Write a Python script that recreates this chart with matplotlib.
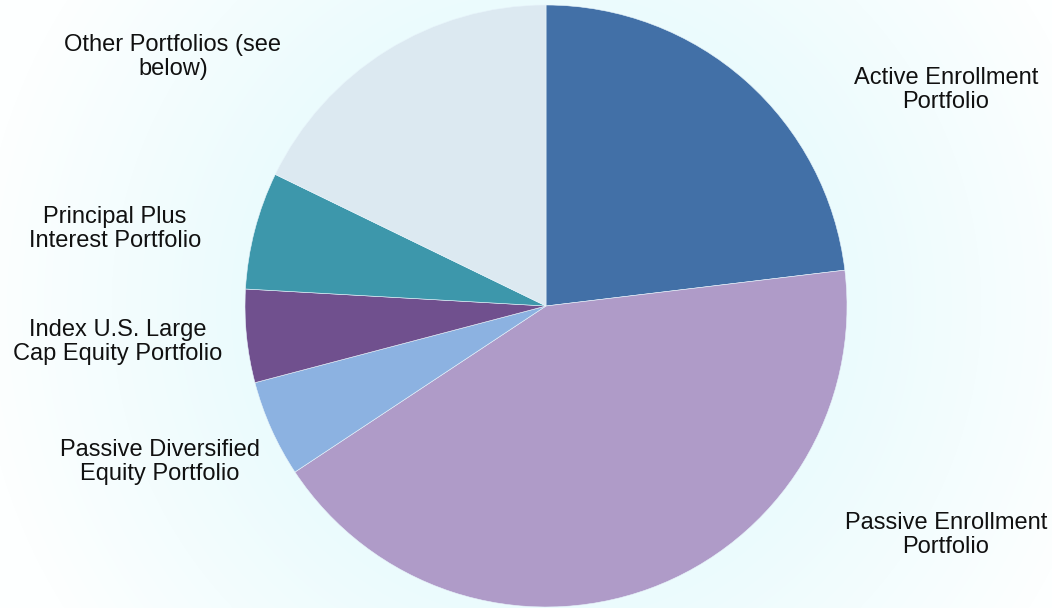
import numpy as np
import matplotlib.pyplot as plt
from matplotlib.colors import LinearSegmentedColormap

plt.rcParams['font.family'] = ['Liberation Sans', 'DejaVu Sans']

# portfolio shares (percent), clockwise from 12 o'clock
portfolios = [
    "Active Enrollment\nPortfolio",
    "Passive Enrollment\nPortfolio",
    "Passive Diversified\nEquity Portfolio",
    "Index U.S. Large\nCap Equity Portfolio",
    "Principal Plus\nInterest Portfolio",
    "Other Portfolios (see\nbelow)",
]
shares = [23.1, 42.6, 5.2, 5.0, 6.3, 17.8]
colors = ["#4270a7", "#af9bc8", "#8cb2e1", "#70508e", "#3d97ab", "#dce9f1"]

# label centres in figure pixels (x, y from top)
label_pos = [(946, 90), (946, 535), (160, 462), (118, 342), (115, 229), (173, 57)]

W, H = 1052, 608
fig = plt.figure(figsize=(W / 100, H / 100), dpi=100)

# soft cyan glow behind the pie
bg = fig.add_axes([0, 0, 1, 1])
yy, xx = np.mgrid[0:H, 0:W]
r = np.hypot(xx - 546, yy - 306) / 300.0
t = np.clip((r - 1.0) / 0.9, 0, 1)
glow = LinearSegmentedColormap.from_list("glow", ["#ebfbfd", "#fdffff"])
bg.imshow(t, cmap=glow, extent=[0, W, H, 0], aspect="auto", vmin=0, vmax=1)
bg.set_xlim(0, W)
bg.set_ylim(H, 0)
bg.axis("off")

R = 301
ax = fig.add_axes([(546 - R) / W, (H - 306 - R) / H, 2 * R / W, 2 * R / H])
ax.pie(shares, colors=colors, startangle=90, counterclock=False,
       wedgeprops=dict(linewidth=0.4, edgecolor="#e8f4fb"))
ax.set_xlim(-1, 1)
ax.set_ylim(-1, 1)
ax.axis("off")

for lab, (px, py) in zip(portfolios, label_pos):
    fig.text(px / W, 1 - py / H, lab, ha="center", va="center",
             fontsize=17, color="#111111", linespacing=1.1)

fig.savefig("out.png", dpi=100)
